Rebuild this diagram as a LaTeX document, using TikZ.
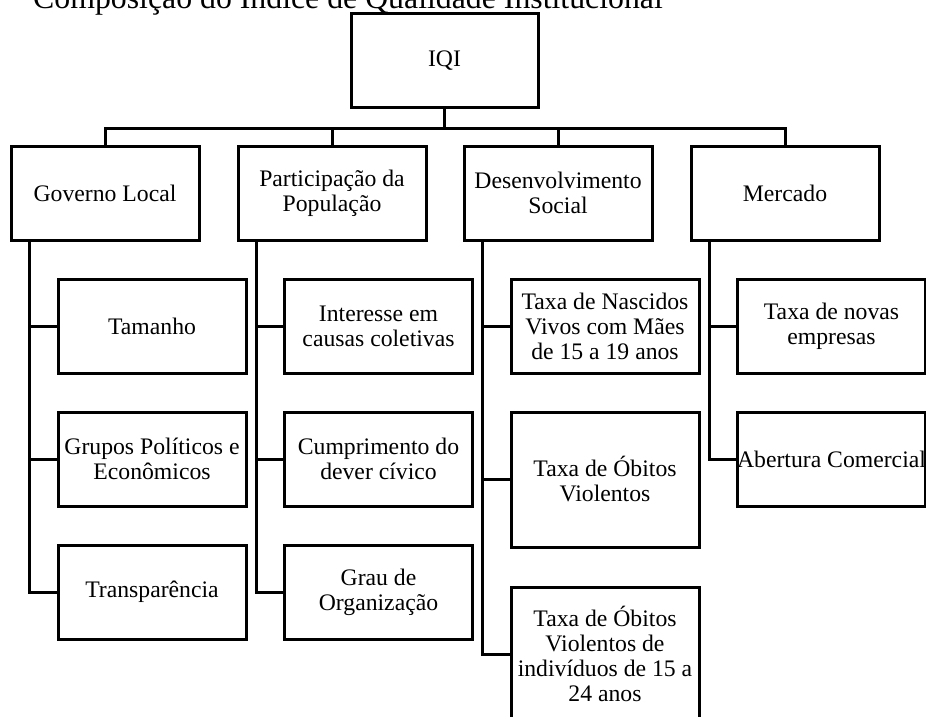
\documentclass[tikz,border=0pt]{standalone}
\usepackage{fontspec}
\setmainfont{Liberation Serif}
\begin{document}
\begin{tikzpicture}[x=1pt,y=-1pt,
  box/.style={draw, line width=3pt, inner sep=0pt, align=center,
              font=\fontsize{23.7}{25}\selectfont},
  cell/.style={box, minimum width=188pt, minimum height=94pt},
  conn/.style={line width=3pt}]
\useasboundingbox (0,0) rectangle (926,717);
\node[anchor=base west, inner sep=0pt, font=\fontsize{31.8}{36}\selectfont] (title) at (33,9)
  {Composição do Índice de Qualidade Institucional};
% root
\node[box, minimum width=187pt, minimum height=93pt] (iqi) at (444.5,60.5) {IQI};
% level 1
\node[cell] (gov)  at (105,193) {Governo Local};
\node[cell] (part) at (332,193) {Participação da\\População};
\node[cell] (des)  at (558,193) {Desenvolvimento\\Social};
\node[cell] (mer)  at (785,193) {Mercado};
% Governo Local children
\node[cell] (g1) at (152,326.5) {Tamanho};
\node[cell] (g2) at (152,459) {Grupos Políticos e\\Econômicos};
\node[cell] (g3) at (152,592) {Transparência};
% Participacao children
\node[cell] (p1) at (378.5,326.5) {Interesse em\\causas coletivas};
\node[cell] (p2) at (378.5,459) {Cumprimento do\\dever cívico};
\node[cell] (p3) at (378.5,592) {Grau de\\Organização};
% Desenvolvimento children
\node[cell] (d1) at (605,326.5) {Taxa de Nascidos\\Vivos com Mães\\de 15 a 19 anos};
\node[cell, minimum height=135pt] (d2) at (605,479.5) {Taxa de Óbitos\\Violentos};
\node[cell, minimum height=134pt] (d3) at (605,654) {Taxa de Óbitos\\Violentos de\\indivíduos de 15 a\\24 anos};
% Mercado children
\node[cell] (m1) at (831.5,326.5) {Taxa de novas\\empresas};
\node[cell] (m2) at (831.5,459) {Abertura Comercial};
% connectors: root to level 1
\draw[conn] (iqi.south) -- ++(0,20) coordinate (bus);
\foreach \n in {gov,part,des,mer} \draw[conn] (bus) -| (\n.north);
% connectors: level 1 to children
\foreach \c in {g1,g2,g3} \draw[conn] ([xshift=19.5pt]gov.south west) |- (\c.west);
\foreach \c in {p1,p2,p3} \draw[conn] ([xshift=19.5pt]part.south west) |- (\c.west);
\foreach \c in {d1,d2,d3} \draw[conn] ([xshift=19.5pt]des.south west) |- (\c.west);
\foreach \c in {m1,m2} \draw[conn] ([xshift=19.5pt]mer.south west) |- (\c.west);
\end{tikzpicture}
\end{document}
